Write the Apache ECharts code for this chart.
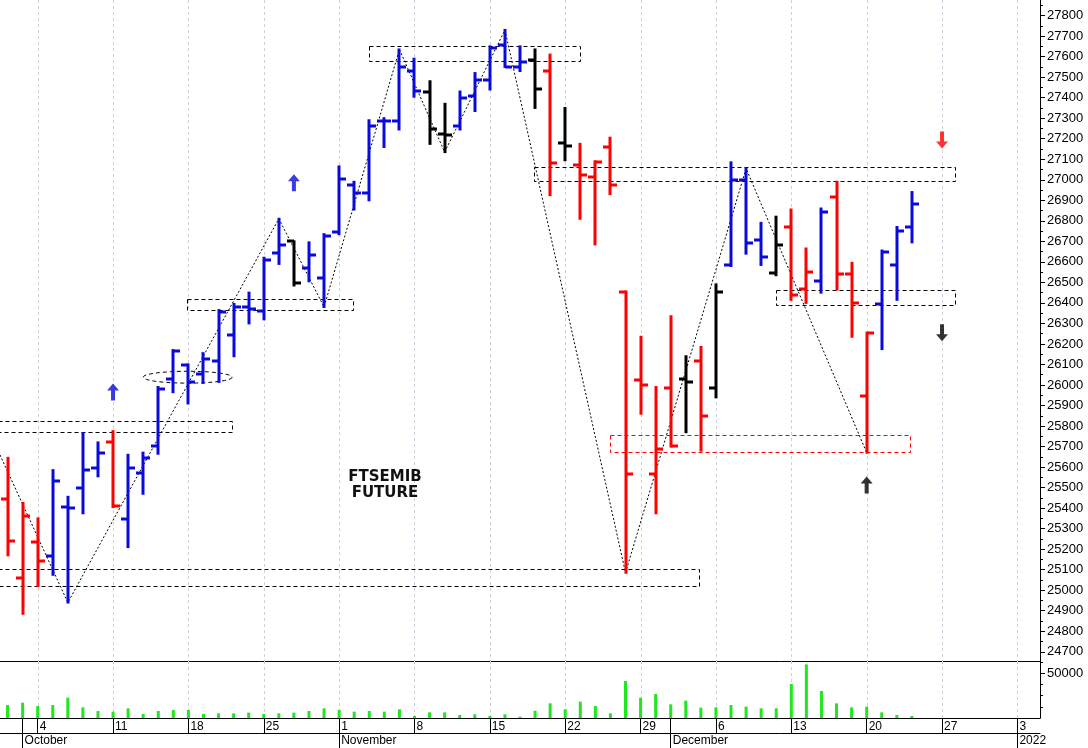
<!DOCTYPE html>
<html><head><meta charset="utf-8">
<script src="https://cdn.jsdelivr.net/npm/echarts@6/dist/echarts.min.js"></script>
<style>html,body{margin:0;padding:0;background:#fff}#chart{width:1088px;height:748px}</style>
</head><body><div id="chart"></div>
<script>
// ---------- DATA ----------
const dates = ['2021-09-30','2021-10-01','2021-10-04','2021-10-05','2021-10-06','2021-10-07','2021-10-08','2021-10-11','2021-10-12','2021-10-13','2021-10-14','2021-10-15','2021-10-18','2021-10-19','2021-10-20','2021-10-21','2021-10-22','2021-10-25','2021-10-26','2021-10-27','2021-10-28','2021-10-29','2021-11-01','2021-11-02','2021-11-03','2021-11-04','2021-11-05','2021-11-08','2021-11-09','2021-11-10','2021-11-11','2021-11-12','2021-11-15','2021-11-16','2021-11-17','2021-11-18','2021-11-19','2021-11-22','2021-11-23','2021-11-24','2021-11-25','2021-11-26','2021-11-29','2021-11-30','2021-12-01','2021-12-02','2021-12-03','2021-12-06','2021-12-07','2021-12-08','2021-12-09','2021-12-10','2021-12-13','2021-12-14','2021-12-15','2021-12-16','2021-12-17','2021-12-20','2021-12-21','2021-12-22','2021-12-23','2021-12-24','2021-12-27','2021-12-28','2021-12-29','2021-12-30','2021-12-31','2022-01-03','2022-01-04'];

const opens = [25445,25060,25235,25165,25405,25500,25595,25720,25345,25570,
  25705,26030,26095,26055,26115,26245,26380,26360,26645,26700,
  26570,26520,26745,26975,26935,27285,27285,27530,27430,27225,
  27260,27410,27485,27655,27550,27585,27530,27180,27070,27015,
  27160,26455,26025,25565,25985,26030,26115,25985,26585,27000,
  26705,26545,26770,26470,26505,26915,26540,25945,26395,26585,26770];
const highs = [25645,25425,25350,25585,25455,25765,25720,25775,25660,25670,
  25990,26170,26100,26155,26365,26395,26450,26620,26810,26700,
  26695,26735,27065,26990,27290,27300,27635,27590,27480,27370,
  27430,27520,27650,27730,27650,27635,27610,27350,27175,27090,
  27205,26455,26235,25990,26335,26140,26185,26490,27085,27055,
  26790,26820,26855,26665,26860,26990,26595,26255,26655,26770,26940];
const lows = [25170,24885,25020,25075,24940,25375,25555,25405,25210,25470,
  25665,25965,25910,26010,26015,26140,26300,26320,26590,26485,
  26505,26380,26735,26855,26900,27160,27245,27405,27175,27135,
  27245,27335,27440,27550,27530,27350,26925,27095,26810,26685,
  26930,25085,25860,25375,25700,25770,25680,25940,26580,26640,
  26585,26535,26415,26400,26450,26465,26235,25670,26175,26415,26695];
const closes = [25240,25360,25140,25530,25400,25585,25670,25410,25595,25645,
  25980,26165,26015,26125,26355,26380,26370,26610,26680,26495,
  26635,26725,27005,26935,27260,27285,27550,27435,27245,27220,
  27400,27485,27640,27550,27575,27440,27080,27165,27025,27085,
  26975,25565,26000,25690,25705,26015,25850,26455,27000,26690,
  26625,26680,26440,26550,26845,26540,26400,26255,26650,26750,26880];
// bar colour code: r = red, b = blue, k = black
const barColorCodes = ['r','r','r','b','b','b','b','r','b','b',
  'b','b','b','b','b','b','b','b','b','k',
  'b','b','b','b','b','b','b','b','k','k',
  'b','b','b','b','b','k','r','k','r','r',
  'r','r','r','r','r','k','r','k','b','b',
  'b','k','r','r','b','r','r','r','b','b','b'];
const volumes = [14500,17200,13400,14500,22700,11900,7800,7100,10800,4500,
  7800,9000,9000,4500,5200,5200,6000,4500,5200,6000,
  7800,10800,9000,7100,7800,7100,9700,2200,6300,6300,
  3400,4100,2200,4100,1500,8200,16400,9700,18300,13400,
  5200,41400,22700,26800,15300,19400,11600,11900,14500,12700,
  10800,10800,38000,60000,30200,16400,11900,12700,6300,3400,2200];

// swing zig-zag (index, price)
const zigzag = [[-0.5,25659],[4,24940],[18,26810],[21,26380],[26,27635],[29,27135],[33,27730],[41,25085],[49,27055],[57,25670]];
// dashed support / resistance boxes: [fromIndex, toIndex, upperPrice, lowerPrice]
const blackBoxes = [[-2,14.9,25826,25770],[-2,45.9,25102,25021],[11.9,22.9,26418,26366],[24.0,37.95,27652,27581],[34.95,62.85,27061,26994],[50.97,62.85,26463,26390]];
const redBoxes = [[40.0,59.9,25757,25672]];
const ellipses = [[9.0,14.9,26067,26009]];
// signal arrows: [index, price, colourCode]
const arrowsUp = [[7,25966,'b'],[19,26985,'b'],[57,25513,'k']];
const arrowsDown = [[62,27194,'r'],[62,26254,'k']];

const yTicks = [27800,27700,27600,27500,27400,27300,27200,27100,27000,26900,26800,26700,26600,26500,26400,26300,26200,26100,26000,25900,25800,25700,25600,25500,25400,25300,25200,25100,25000,24900,24800,24700];
const yMinorTicks = [27850,27750,27650,27550,27450,27350,27250,27150,27050,26950,26850,26750,26650,26550,26450,26350,26250,26150,26050,25950,25850,25750,25650,25550,25450,25350,25250,25150,25050,24950,24850,24750];
const volTicks = [50000];
const volMinorTicks = [12500,25000,37500,62500];
const monthLabels = {1:'October',22:'November',44:'December',67:'2022'};

// ---------- CHART ----------
const COLORS = {r:'#ff0000', b:'#0a0adc', k:'#000000'};
const mondayIdx = [];
dates.forEach((d,i)=>{ if(new Date(d+'T00:00:00Z').getUTCDay()===1) mondayIdx.push(i); });
const mondaySet = new Set(mondayIdx);
const monthStartSet = new Set(Object.keys(monthLabels).map(Number));

const ohlc = opens.map((o,i)=>[i, o, closes[i], lows[i], highs[i]]);

function renderBar(params, api){
  const i = api.value(0);
  const po = api.coord([i, api.value(1)]);
  const pc = api.coord([i, api.value(2)]);
  const pl = api.coord([i, api.value(3)]);
  const ph = api.coord([i, api.value(4)]);
  const col = COLORS[barColorCodes[params.dataIndex]];
  const x = Math.round(ph[0]);
  const st = {stroke: col, lineWidth: 3};
  return {type:'group', children:[
    {type:'line', shape:{x1:x, y1:ph[1]-1, x2:x, y2:pl[1]+1}, style:st},
    {type:'line', shape:{x1:x-7, y1:Math.round(po[1]), x2:x, y2:Math.round(po[1])}, style:st},
    {type:'line', shape:{x1:x, y1:Math.round(pc[1]), x2:x+7, y2:Math.round(pc[1])}, style:st}
  ]};
}
function boxRenderer(color){
  return function(params, api){
    const p0 = api.coord([api.value(0), api.value(2)]);
    const p1 = api.coord([api.value(1), api.value(3)]);
    const x0 = Math.round(p0[0])+0.5, y0 = Math.round(p0[1])+0.5;
    const x1 = Math.round(p1[0])+0.5, y1 = Math.round(p1[1])+0.5;
    return {type:'rect', shape:{x:x0, y:y0, width:x1-x0, height:y1-y0},
      style:{fill:'none', stroke:color, lineWidth:1, lineDash:[4,3]}};
  };
}
function renderEllipse(params, api){
  const p0 = api.coord([api.value(0), api.value(2)]);
  const p1 = api.coord([api.value(1), api.value(3)]);
  const cx = (p0[0]+p1[0])/2, cy = (p0[1]+p1[1])/2;
  const rx = Math.abs(p1[0]-p0[0])/2, ry = Math.abs(p1[1]-p0[1])/2;
  const pts = [];
  for(let k=0;k<=64;k++){ const t = k/64*Math.PI*2; pts.push([cx+rx*Math.cos(t), cy+ry*Math.sin(t)]); }
  return {type:'polyline', shape:{points:pts}, style:{fill:'none', stroke:'#000', lineWidth:1, lineDash:[4,3]}};
}
function renderGrid(params, api){
  const cs = params.coordSys;
  const x = Math.round(api.coord([api.value(0), api.value(1)])[0]) + 0.5;
  return {type:'line', shape:{x1:x, y1:cs.y, x2:x, y2:cs.y+cs.height},
    style:{stroke:'#cfcfdc', lineWidth:1, lineDash:[3,3]}};
}

const UP = 'path://M6,0 L12,7 L8,7 L8,17 L4,17 L4,7 L0,7 Z';
const DOWN = 'path://M4,0 L8,0 L8,10 L12,10 L6,17 L0,10 L4,10 Z';
const plain = (v)=>String(v);

const chart = echarts.init(document.getElementById('chart'), null, {renderer:'canvas'});
chart.setOption({
  animation:false,
  backgroundColor:'#ffffff',
  textStyle:{fontFamily:'Liberation Sans'},
  grid:[{left:0, right:48, top:0, height:661},{left:0, right:48, top:661, height:57}],
  xAxis:[
    {type:'category', gridIndex:0, data:dates, boundaryGap:true,
     axisLine:{show:true, onZero:false, lineStyle:{color:'#000', width:1}}, axisTick:{show:false}, axisLabel:{show:false}, splitLine:{show:false}},
    {type:'value', gridIndex:0, min:-0.5, max:dates.length-0.5, show:false, axisLine:{onZero:false}},
    {type:'category', gridIndex:1, data:dates, position:'bottom',
     axisLine:{show:true, onZero:false, lineStyle:{color:'#000', width:1}},
     axisTick:{show:true, alignWithLabel:true, length:15, interval:(i)=>mondaySet.has(i)||monthStartSet.has(i), lineStyle:{color:'#000'}},
     axisLabel:{interval:(i)=>mondaySet.has(i), formatter:(v)=>String(Number(v.slice(8))), align:'left', margin:3, padding:[0,0,0,2], fontSize:12, color:'#000'},
     splitLine:{show:false}},
    {type:'category', gridIndex:1, data:dates, position:'bottom', offset:15,
     axisLine:{show:true, onZero:false, lineStyle:{color:'#000', width:1}},
     axisTick:{show:true, alignWithLabel:true, length:15, interval:(i)=>monthStartSet.has(i), lineStyle:{color:'#000'}},
     axisLabel:{interval:(i)=>monthStartSet.has(i), formatter:(v,i)=>monthLabels[i]||'', align:'left', margin:2, padding:[0,0,0,2], fontSize:12, color:'#000'},
     splitLine:{show:false}}
  ],
  yAxis:[
    {type:'value', gridIndex:0, position:'right', min:24655, max:27876,
     axisLine:{show:true, onZero:false, lineStyle:{color:'#000'}},
     axisTick:{show:true, length:5, customValues:yTicks, lineStyle:{color:'#000'}},
     axisLabel:{customValues:yTicks, formatter:plain, margin:7, fontSize:13, color:'#000'}, splitLine:{show:false}},
    {type:'value', gridIndex:0, position:'right', min:24655, max:27876,
     axisLine:{show:false, onZero:false}, axisTick:{show:true, length:3, customValues:yMinorTicks, lineStyle:{color:'#000'}},
     axisLabel:{show:false}, splitLine:{show:false}},
    {type:'value', gridIndex:1, position:'right', min:0, max:63760,
     axisLine:{show:true, onZero:false, lineStyle:{color:'#000'}},
     axisTick:{show:true, length:5, customValues:volTicks, lineStyle:{color:'#000'}},
     axisLabel:{customValues:volTicks, formatter:plain, margin:7, fontSize:13, color:'#000'}, splitLine:{show:false}},
    {type:'value', gridIndex:1, position:'right', min:0, max:63760,
     axisLine:{show:false, onZero:false}, axisTick:{show:true, length:3, customValues:volMinorTicks, lineStyle:{color:'#000'}},
     axisLabel:{show:false}, splitLine:{show:false}}
  ],
  graphic:[{type:'text', x:385, y:469, z:10,
    style:{text:'FTSEMIB\nFUTURE', font:'bold 15px "DejaVu Sans"', fill:'#111', align:'center', verticalAlign:'top', lineHeight:16}}],
  series:[
    {type:'custom', xAxisIndex:0, yAxisIndex:0, z:1, silent:true, data:mondayIdx.map(i=>[i,26000]), encode:{x:0,y:1}, renderItem:renderGrid},
    {type:'custom', xAxisIndex:2, yAxisIndex:2, z:1, silent:true, data:mondayIdx.map(i=>[i,0]), encode:{x:0,y:1}, renderItem:renderGrid},
    {type:'custom', xAxisIndex:1, yAxisIndex:0, z:2, silent:true, data:blackBoxes, encode:{x:[0,1],y:[2,3]}, renderItem:boxRenderer('#000')},
    {type:'custom', xAxisIndex:1, yAxisIndex:0, z:2, silent:true, data:redBoxes, encode:{x:[0,1],y:[2,3]}, renderItem:boxRenderer('#ff0000')},
    {type:'custom', xAxisIndex:1, yAxisIndex:0, z:2, silent:true, data:ellipses, encode:{x:[0,1],y:[2,3]}, renderItem:renderEllipse},
    {type:'line', xAxisIndex:1, yAxisIndex:0, z:3, data:zigzag, symbol:'none', silent:true,
     lineStyle:{color:'#000', width:1, type:[2,2]}},
    {type:'custom', xAxisIndex:0, yAxisIndex:0, z:4, data:ohlc, encode:{x:0, y:[1,2,3,4]}, renderItem:renderBar},
    {type:'scatter', xAxisIndex:1, yAxisIndex:0, z:5, symbol:UP, symbolSize:[12,17],
     data:arrowsUp.map(a=>({value:[a[0],a[1]], itemStyle:{color:COLORS[a[2]]}}))},
    {type:'scatter', xAxisIndex:1, yAxisIndex:0, z:5, symbol:DOWN, symbolSize:[12,17],
     data:arrowsDown.map(a=>({value:[a[0],a[1]], itemStyle:{color:COLORS[a[2]]}}))},
    {type:'bar', xAxisIndex:2, yAxisIndex:2, z:3, data:volumes, barWidth:3, itemStyle:{color:'#1ee81e'}}
  ]
});
</script></body></html>
